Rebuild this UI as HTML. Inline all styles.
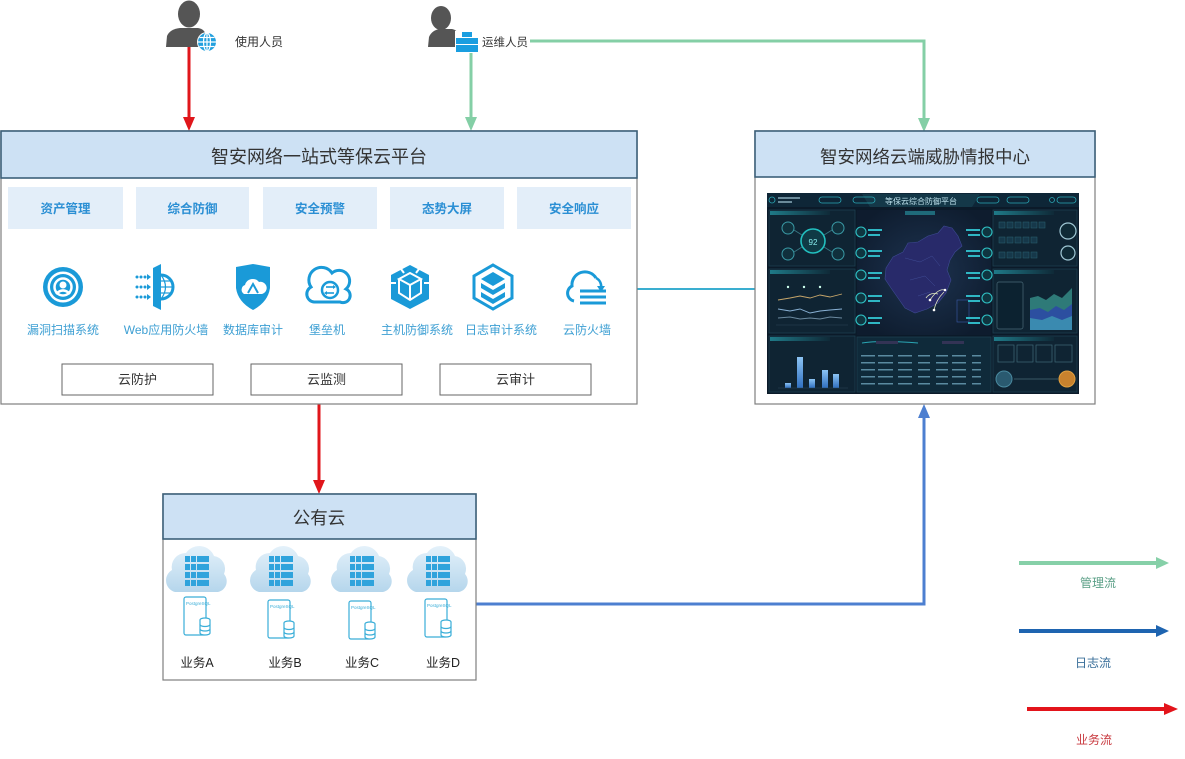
<!DOCTYPE html>
<html><head><meta charset="utf-8">
<style>
html,body{margin:0;padding:0;background:#fff;}
svg{display:block;}
text{font-family:"Liberation Sans","Noto Sans CJK SC",sans-serif;}
</style></head><body>
<svg width="1185" height="759" viewBox="0 0 1185 759" xmlns="http://www.w3.org/2000/svg">
<defs>
<linearGradient id="cl" x1="0" y1="0" x2="0" y2="1"><stop offset="0" stop-color="#e4f1fa"/><stop offset="1" stop-color="#b5d6ec"/></linearGradient>
<linearGradient id="bar" x1="0" y1="0" x2="0" y2="1"><stop offset="0" stop-color="#8cc4f4"/><stop offset="1" stop-color="#2f6fc0"/></linearGradient>
<radialGradient id="mapbg" cx="0.5" cy="0.5" r="0.6"><stop offset="0" stop-color="#1d3350"/><stop offset="1" stop-color="#0e1c2e"/></radialGradient>
<linearGradient id="ph" x1="0" y1="0" x2="1" y2="0"><stop offset="0" stop-color="#1f7a88"/><stop offset="1" stop-color="#0f2a38"/></linearGradient>
</defs>

<!-- ===== connectors ===== -->
<line x1="189" y1="46" x2="189" y2="119" stroke="#e0161b" stroke-width="3"/>
<polygon points="183,117 195,117 189,131" fill="#e0161b"/>
<line x1="471" y1="52" x2="471" y2="119" stroke="#84cfa6" stroke-width="3"/>
<polygon points="465,117 477,117 471,131" fill="#84cfa6"/>
<polyline points="530,41 924,41 924,120" fill="none" stroke="#84cfa6" stroke-width="3"/>
<polygon points="918,118 930,118 924,132" fill="#84cfa6"/>
<line x1="637" y1="289" x2="755" y2="289" stroke="#3aaed0" stroke-width="2"/>
<line x1="319" y1="404" x2="319" y2="482" stroke="#e0161b" stroke-width="3"/>
<polygon points="313,480 325,480 319,494" fill="#e0161b"/>
<polyline points="476,604 924,604 924,416" fill="none" stroke="#4d7fd0" stroke-width="3"/>
<polygon points="918,418 930,418 924,404" fill="#4d7fd0"/>

<!-- ===== people ===== -->
<ellipse cx="189" cy="14" rx="11" ry="13.5" fill="#555"/>
<path d="M166,47 L167,36 Q170,29 180,28 L198,28 Q205,29 206,36 L206,47 Z" fill="#555"/>
<circle cx="207" cy="42" r="10" fill="#fff"/>
<circle cx="207" cy="42" r="9" fill="#22a0de"/>
<g stroke="#fff" stroke-width="1.2" fill="none">
<ellipse cx="207" cy="42" rx="3.5" ry="9"/>
<line x1="198" y1="42" x2="216" y2="42"/>
<line x1="199.5" y1="37.5" x2="214.5" y2="37.5"/>
<line x1="199.5" y1="46.5" x2="214.5" y2="46.5"/>
<line x1="207" y1="33" x2="207" y2="51"/>
</g>
<text x="235" y="46" font-size="12" fill="#333">使用人员</text>

<ellipse cx="441" cy="18" rx="10" ry="12" fill="#555"/>
<path d="M428,47 L429,37 Q432,30 440,29 L452,29 Q458,30 459,37 L459,47 Z" fill="#555"/>
<rect x="455" y="31" width="24" height="22" fill="#fff"/>
<rect x="462" y="32" width="10" height="5" fill="#1a9ee0"/>
<rect x="456" y="38" width="22" height="6" fill="#1a9ee0"/>
<rect x="456" y="45" width="22" height="7" fill="#1a9ee0"/>
<text x="482" y="46" font-size="11.5" fill="#333">运维人员</text>

<!-- ===== main platform box ===== -->
<rect x="1" y="131" width="636" height="273" fill="#fff" stroke="#7f7f7f" stroke-width="1.2"/>
<rect x="1" y="131" width="636" height="47" fill="#cde1f4" stroke="#3c6079" stroke-width="1.6"/>
<text x="319" y="163" font-size="18" fill="#333" text-anchor="middle">智安网络一站式等保云平台</text>

<g fill="#e3eef9">
<rect x="8" y="187" width="115" height="42"/>
<rect x="136" y="187" width="113" height="42"/>
<rect x="263" y="187" width="114" height="42"/>
<rect x="390" y="187" width="114" height="42"/>
<rect x="517" y="187" width="114" height="42"/>
</g>
<g font-size="12.5" font-weight="bold" fill="#2b8fd4" text-anchor="middle">
<text x="65.5" y="213">资产管理</text>
<text x="192.5" y="213">综合防御</text>
<text x="320" y="213">安全预警</text>
<text x="447" y="213">态势大屏</text>
<text x="574" y="213">安全响应</text>
</g>

<!-- icons -->
<circle cx="63" cy="287" r="20" fill="#1a9ad8"/>
<circle cx="63" cy="287" r="15.5" fill="#fff"/>
<circle cx="63" cy="287" r="13" fill="#1a9ad8"/>
<circle cx="63" cy="287" r="8.5" fill="none" stroke="#fff" stroke-width="2.5"/>
<circle cx="63" cy="285" r="3.5" fill="#fff"/>
<path d="M56,294 Q63,287 70,294" fill="none" stroke="#fff" stroke-width="2.5"/>
<g fill="#1a9ad8">
<circle cx="137" cy="277" r="1.5"/><circle cx="141" cy="277" r="1.5"/><circle cx="145" cy="277" r="1.5"/><polygon points="147,274 151,277 147,280"/>
<circle cx="137" cy="287" r="1.5"/><circle cx="141" cy="287" r="1.5"/><circle cx="145" cy="287" r="1.5"/><polygon points="147,284 151,287 147,290"/>
<circle cx="137" cy="297" r="1.5"/><circle cx="141" cy="297" r="1.5"/><circle cx="145" cy="297" r="1.5"/><polygon points="147,294 151,297 147,300"/>
<polygon points="153,268 161,264 161,310 153,306"/>
</g>
<path d="M161,275 A12,12 0 0 1 161,299" fill="none" stroke="#1a9ad8" stroke-width="3"/>
<g stroke="#1a9ad8" stroke-width="1.2" fill="none">
<line x1="161" y1="287" x2="173" y2="287"/><line x1="161" y1="281" x2="171" y2="281"/><line x1="161" y1="293" x2="171" y2="293"/><path d="M161,275 Q170,287 161,299"/>
</g>
<path d="M236,267 L253,264 L270,267 L270,288 Q268,302 253,310 Q238,302 236,288 Z" fill="#1a9ad8"/>
<path d="M244,294 A5,5 0 0 1 245,285 A8,8 0 0 1 259,282 A6,6 0 0 1 262,294 Z" fill="#fff"/>
<path d="M248,293 L253,284 L258,293" fill="none" stroke="#1a9ad8" stroke-width="2"/>
<path d="M314,302 A8,8 0 0 1 311,287 A12,12 0 0 1 332,273 A10,10 0 0 1 346,289 A7,7 0 0 1 340,302 Z" fill="none" stroke="#1a9ad8" stroke-width="3"/>
<circle cx="330" cy="290" r="8" fill="none" stroke="#1a9ad8" stroke-width="2.5"/>
<g stroke="#1a9ad8" stroke-width="1.6" fill="none"><line x1="326" y1="287" x2="334" y2="287"/><line x1="326" y1="293" x2="334" y2="293"/></g>
<polygon points="333,285 336,287 333,289" fill="#1a9ad8"/><polygon points="327,291 324,293 327,295" fill="#1a9ad8"/>
<polygon points="410,265 429,275 429,299 410,309 391,299 391,275" fill="#1a9ad8"/>
<g fill="none" stroke="#fff" stroke-width="2">
<polygon points="410,273 421,279 410,285 399,279"/>
<path d="M399,279 L399,293 L410,300 L421,293 L421,279"/>
<line x1="410" y1="285" x2="410" y2="300"/>
<line x1="391" y1="283" x2="396" y2="283"/><line x1="424" y1="283" x2="429" y2="283"/>
<line x1="401" y1="269" x2="404" y2="273"/><line x1="419" y1="269" x2="416" y2="273"/>
</g>
<polygon points="493,265 512,276 512,298 493,309 474,298 474,276" fill="none" stroke="#1a9ad8" stroke-width="3"/>
<g fill="#1a9ad8">
<polygon points="493,272 505,279 493,286 481,279"/>
<polygon points="481,283 493,290 505,283 505,288 493,295 481,288"/>
<polygon points="481,292 493,299 505,292 505,297 493,304 481,297"/>
</g>
<path d="M574,301 A8,8 0 0 1 572,286 A13,13 0 0 1 596,278" fill="none" stroke="#1a9ad8" stroke-width="3"/>
<path d="M596,278 A9,9 0 0 1 601,288" fill="none" stroke="#1a9ad8" stroke-width="2.5"/>
<polygon points="597,286 605,286 601,292" fill="#1a9ad8"/>
<g stroke="#1a9ad8" stroke-width="3"><line x1="580" y1="291" x2="606" y2="291"/><line x1="580" y1="297" x2="606" y2="297"/><line x1="580" y1="303" x2="606" y2="303"/></g>

<g font-size="12" fill="#3d9fd3" text-anchor="middle">
<text x="63" y="334">漏洞扫描系统</text>
<text x="166" y="334">Web应用防火墙</text>
<text x="253" y="334">数据库审计</text>
<text x="327" y="334">堡垒机</text>
<text x="417" y="334">主机防御系统</text>
<text x="501" y="334">日志审计系统</text>
<text x="587" y="334">云防火墙</text>
</g>

<g fill="#fff" stroke="#666" stroke-width="1">
<rect x="62" y="364" width="151" height="31"/>
<rect x="251" y="364" width="151" height="31"/>
<rect x="440" y="364" width="151" height="31"/>
</g>
<g font-size="13" fill="#333" text-anchor="middle">
<text x="137.5" y="384">云防护</text>
<text x="326.5" y="384">云监测</text>
<text x="515.5" y="384">云审计</text>
</g>

<!-- ===== right intel box ===== -->
<rect x="755" y="131" width="340" height="273" fill="#fff" stroke="#7f7f7f" stroke-width="1.2"/>
<rect x="755" y="131" width="340" height="46" fill="#cde1f4" stroke="#3c6079" stroke-width="1.6"/>
<text x="925" y="163" font-size="17.5" fill="#333" text-anchor="middle">智安网络云端威胁情报中心</text>

<rect x="767" y="193" width="312" height="201" fill="#0b1a29"/>
<rect x="767" y="193" width="312" height="14" fill="#0e2637"/>
<path d="M862,194 L980,194 L972,207 L870,207 Z" fill="#143848"/>
<text x="921" y="204" font-size="8" fill="#bfe3ee" text-anchor="middle">等保云综合防御平台</text>
<g fill="none" stroke="#2aa6b4" stroke-width="0.8">
<circle cx="772" cy="200" r="3"/>
<rect x="819" y="197" width="22" height="6" rx="3"/>
<rect x="853" y="197" width="22" height="6" rx="3"/>
<rect x="977" y="197" width="22" height="6" rx="3"/>
<rect x="1007" y="197" width="22" height="6" rx="3"/>
<circle cx="1052" cy="200" r="2.5"/>
<rect x="1057" y="197" width="19" height="6" rx="3"/>
</g>
<rect x="778" y="197" width="22" height="2" fill="#6a8a9a"/><rect x="778" y="201" width="14" height="2" fill="#6a8a9a"/>

<g fill="#0f2433" stroke="#1c3f4e" stroke-width="0.8">
<rect x="769" y="210" width="86" height="56"/>
<rect x="769" y="269" width="86" height="64"/>
<rect x="769" y="336" width="86" height="56"/>
<rect x="993" y="210" width="84" height="56"/>
<rect x="993" y="269" width="84" height="64"/>
<rect x="993" y="336" width="84" height="56"/>
</g>
<g fill="url(#ph)">
<rect x="770" y="211" width="60" height="4"/>
<rect x="770" y="270" width="60" height="4"/>
<rect x="770" y="337" width="60" height="4"/>
<rect x="994" y="211" width="60" height="4"/>
<rect x="994" y="270" width="60" height="4"/>
<rect x="994" y="337" width="60" height="4"/>
</g>
<circle cx="813" cy="241" r="12" fill="#0f3a45" stroke="#22c0c0" stroke-width="1.6"/>
<text x="813" y="245" font-size="8" fill="#8ee" text-anchor="middle">92</text>
<g fill="#10303c" stroke="#3a9aa6" stroke-width="1">
<circle cx="788" cy="228" r="6"/><circle cx="838" cy="228" r="6"/>
<circle cx="788" cy="254" r="6"/><circle cx="838" cy="254" r="6"/>
</g>
<g stroke="#3a7a86" stroke-width="0.8"><line x1="794" y1="230" x2="802" y2="235"/><line x1="832" y1="230" x2="824" y2="235"/><line x1="794" y1="252" x2="802" y2="247"/><line x1="832" y1="252" x2="824" y2="247"/></g>
<g fill="#cfe" ><circle cx="788" cy="287" r="1.2"/><circle cx="804" cy="287" r="1.2"/><circle cx="820" cy="287" r="1.2"/></g>
<g fill="none" stroke-width="0.9">
<polyline points="778,300 790,298 800,296 810,298 820,295 830,297 842,294" stroke="#c7a66a"/>
<polyline points="778,309 790,311 800,309 810,313 820,311 830,310 842,309" stroke="#8ab2d6"/>
<polyline points="778,318 790,317 800,319 810,318 820,319 830,317 842,318" stroke="#6c8aa0"/>
</g>
<line x1="776" y1="325" x2="848" y2="325" stroke="#2a4756" stroke-width="0.6"/>
<g fill="url(#bar)">
<rect x="785" y="383" width="6" height="5"/>
<rect x="797" y="357" width="6" height="31"/>
<rect x="809" y="379" width="6" height="9"/>
<rect x="822" y="370" width="6" height="18"/>
<rect x="833" y="374" width="6" height="14"/>
</g>
<line x1="778" y1="388" x2="848" y2="388" stroke="#2a4756" stroke-width="0.6"/>

<rect x="857" y="210" width="134" height="125" fill="url(#mapbg)"/>
<rect x="905" y="211" width="30" height="4" fill="#1f6a7a"/>
<path d="M886,268 L893,257 L903,252 L908,243 L918,242 L928,236 L938,233 L944,226 L952,228 L958,236 L962,246 L955,252 L950,260 L947,270 L951,280 L946,293 L938,303 L927,309 L915,313 L905,308 L898,298 L891,288 L885,279 Z" fill="#282a6a" stroke="#3d4a92" stroke-width="0.6"/>
<g fill="none" stroke="#3f4c95" stroke-width="0.5"><path d="M905,258 L920,262 L932,256 L940,266"/><path d="M910,280 L925,276 L935,286"/><path d="M918,296 L930,292"/></g>
<g fill="none" stroke="#dfe8c0" stroke-width="0.8"><path d="M930,300 Q938,288 945,290"/><path d="M926,298 Q930,292 938,294"/><path d="M934,310 Q936,300 944,292"/></g>
<g fill="#fff"><circle cx="945" cy="290" r="1.3"/><circle cx="930" cy="300" r="1.3"/><circle cx="934" cy="310" r="1.3"/></g>
<rect x="957" y="300" width="12" height="22" fill="none" stroke="#3a5aa8" stroke-width="0.6"/>
<g fill="#0f3540" stroke="#2fc0c4" stroke-width="1.1">
<circle cx="861" cy="232" r="5"/><circle cx="861" cy="253" r="5"/><circle cx="861" cy="275" r="5"/><circle cx="861" cy="298" r="5"/><circle cx="861" cy="320" r="5"/>
<circle cx="987" cy="232" r="5"/><circle cx="987" cy="253" r="5"/><circle cx="987" cy="275" r="5"/><circle cx="987" cy="298" r="5"/><circle cx="987" cy="320" r="5"/>
</g>
<g fill="#2fb7c4">
<rect x="868" y="229" width="14" height="2"/><rect x="868" y="234" width="12" height="2"/>
<rect x="868" y="250" width="14" height="2"/><rect x="868" y="255" width="12" height="2"/>
<rect x="868" y="272" width="14" height="2"/><rect x="868" y="277" width="12" height="2"/>
<rect x="868" y="295" width="14" height="2"/><rect x="868" y="300" width="12" height="2"/>
<rect x="868" y="317" width="14" height="2"/><rect x="868" y="322" width="12" height="2"/>
<rect x="966" y="229" width="14" height="2"/><rect x="968" y="234" width="12" height="2"/>
<rect x="966" y="250" width="14" height="2"/><rect x="968" y="255" width="12" height="2"/>
<rect x="966" y="272" width="14" height="2"/><rect x="968" y="277" width="12" height="2"/>
<rect x="966" y="295" width="14" height="2"/><rect x="968" y="300" width="12" height="2"/>
<rect x="966" y="317" width="14" height="2"/><rect x="968" y="322" width="12" height="2"/>
</g>
<rect x="857" y="337" width="134" height="55" fill="#0f2a3a" stroke="#1c3f4e" stroke-width="0.8"/>
<path d="M862,343 Q880,340 918,343" fill="none" stroke="#2aa6b4" stroke-width="1"/>
<rect x="876" y="341" width="22" height="3" fill="#335"/>
<rect x="942" y="341" width="22" height="3" fill="#335"/>
<g fill="#5a8aa0">
<rect x="861" y="355" width="120" height="1.5"/>
<rect x="861" y="362" width="120" height="1.5"/>
<rect x="861" y="369" width="120" height="1.5"/>
<rect x="861" y="376" width="120" height="1.5"/>
<rect x="861" y="383" width="120" height="1.5"/>
</g>
<g fill="#0f2a3a">
<rect x="875" y="353" width="3" height="34"/><rect x="893" y="353" width="5" height="34"/><rect x="912" y="353" width="6" height="34"/><rect x="930" y="353" width="6" height="34"/><rect x="948" y="353" width="4" height="34"/><rect x="966" y="353" width="6" height="34"/>
</g>

<g fill="#16384a" stroke="#2a6272" stroke-width="0.5">
<rect x="999" y="222" width="6" height="6"/><rect x="1007" y="222" width="6" height="6"/><rect x="1015" y="222" width="6" height="6"/><rect x="1023" y="222" width="6" height="6"/><rect x="1031" y="222" width="6" height="6"/><rect x="1039" y="222" width="6" height="6"/>
<rect x="999" y="237" width="6" height="6"/><rect x="1007" y="237" width="6" height="6"/><rect x="1015" y="237" width="6" height="6"/><rect x="1023" y="237" width="6" height="6"/><rect x="1031" y="237" width="6" height="6"/>
<rect x="999" y="252" width="6" height="6"/><rect x="1007" y="252" width="6" height="6"/><rect x="1015" y="252" width="6" height="6"/><rect x="1023" y="252" width="6" height="6"/><rect x="1031" y="252" width="6" height="6"/>
</g>
<circle cx="1068" cy="231" r="8" fill="#0f2a36" stroke="#9fc7d4" stroke-width="1.2"/>
<circle cx="1068" cy="253" r="7" fill="#0f2a36" stroke="#9fc7d4" stroke-width="1.2"/>
<rect x="997" y="282" width="26" height="47" rx="2" fill="#0c2230" stroke="#4a6a78" stroke-width="0.7"/>
<path d="M1030,330 L1030,298 L1038,296 L1046,300 L1054,294 L1062,298 L1072,288 L1072,330 Z" fill="#2e7a78"/>
<path d="M1030,330 L1030,310 L1040,308 L1048,312 L1056,306 L1064,310 L1072,304 L1072,330 Z" fill="#2c4fa0"/>
<path d="M1030,330 L1030,318 L1042,320 L1052,316 L1062,320 L1072,316 L1072,330 Z" fill="#3a8ab0"/>
<g fill="none" stroke="#3f6a78" stroke-width="0.7">
<rect x="998" y="345" width="16" height="17"/><rect x="1017" y="345" width="16" height="17"/><rect x="1036" y="345" width="16" height="17"/><rect x="1055" y="345" width="17" height="17"/>
</g>
<circle cx="1004" cy="379" r="8" fill="#2a5a70" stroke="#4a8aa0" stroke-width="1"/>
<circle cx="1067" cy="379" r="8" fill="#c8822e" stroke="#e0a040" stroke-width="1"/>
<line x1="1014" y1="379" x2="1058" y2="379" stroke="#4a6a78" stroke-width="0.7"/>

<!-- ===== public cloud box ===== -->
<rect x="163" y="494" width="313" height="186" fill="#fff" stroke="#7f7f7f" stroke-width="1.2"/>
<rect x="163" y="494" width="313" height="45" fill="#cde1f4" stroke="#3c6079" stroke-width="1.6"/>
<text x="319" y="524" font-size="17.5" fill="#333" text-anchor="middle">公有云</text>

<path d="M175,592 A12,12 0 0 1 172,570 A14,14 0 0 1 186,553 A16,16 0 0 1 214,556 A13,13 0 0 1 224,574 A11,11 0 0 1 218,592 Z" fill="url(#cl)"/>
<path d="M259,592 A12,12 0 0 1 256,570 A14,14 0 0 1 270,553 A16,16 0 0 1 298,556 A13,13 0 0 1 308,574 A11,11 0 0 1 302,592 Z" fill="url(#cl)"/>
<path d="M340,592 A12,12 0 0 1 337,570 A14,14 0 0 1 351,553 A16,16 0 0 1 379,556 A13,13 0 0 1 389,574 A11,11 0 0 1 383,592 Z" fill="url(#cl)"/>
<path d="M416,592 A12,12 0 0 1 413,570 A14,14 0 0 1 427,553 A16,16 0 0 1 455,556 A13,13 0 0 1 465,574 A11,11 0 0 1 459,592 Z" fill="url(#cl)"/>

<g fill="#2fa3dc">
<g transform="translate(197,0)">
<rect x="-12" y="556" width="5" height="6"/><rect x="-6" y="556" width="5" height="6"/><rect x="0" y="556" width="12" height="6"/>
<rect x="-12" y="564" width="5" height="6"/><rect x="-6" y="564" width="5" height="6"/><rect x="0" y="564" width="12" height="6"/>
<rect x="-12" y="572" width="5" height="6"/><rect x="-6" y="572" width="5" height="6"/><rect x="0" y="572" width="12" height="6"/>
<rect x="-12" y="580" width="5" height="6"/><rect x="-6" y="580" width="5" height="6"/><rect x="0" y="580" width="12" height="6"/>
</g>
<g transform="translate(281,0)">
<rect x="-12" y="556" width="5" height="6"/><rect x="-6" y="556" width="5" height="6"/><rect x="0" y="556" width="12" height="6"/>
<rect x="-12" y="564" width="5" height="6"/><rect x="-6" y="564" width="5" height="6"/><rect x="0" y="564" width="12" height="6"/>
<rect x="-12" y="572" width="5" height="6"/><rect x="-6" y="572" width="5" height="6"/><rect x="0" y="572" width="12" height="6"/>
<rect x="-12" y="580" width="5" height="6"/><rect x="-6" y="580" width="5" height="6"/><rect x="0" y="580" width="12" height="6"/>
</g>
<g transform="translate(362,0)">
<rect x="-12" y="556" width="5" height="6"/><rect x="-6" y="556" width="5" height="6"/><rect x="0" y="556" width="12" height="6"/>
<rect x="-12" y="564" width="5" height="6"/><rect x="-6" y="564" width="5" height="6"/><rect x="0" y="564" width="12" height="6"/>
<rect x="-12" y="572" width="5" height="6"/><rect x="-6" y="572" width="5" height="6"/><rect x="0" y="572" width="12" height="6"/>
<rect x="-12" y="580" width="5" height="6"/><rect x="-6" y="580" width="5" height="6"/><rect x="0" y="580" width="12" height="6"/>
</g>
<g transform="translate(438,0)">
<rect x="-12" y="556" width="5" height="6"/><rect x="-6" y="556" width="5" height="6"/><rect x="0" y="556" width="12" height="6"/>
<rect x="-12" y="564" width="5" height="6"/><rect x="-6" y="564" width="5" height="6"/><rect x="0" y="564" width="12" height="6"/>
<rect x="-12" y="572" width="5" height="6"/><rect x="-6" y="572" width="5" height="6"/><rect x="0" y="572" width="12" height="6"/>
<rect x="-12" y="580" width="5" height="6"/><rect x="-6" y="580" width="5" height="6"/><rect x="0" y="580" width="12" height="6"/>
</g>
</g>

<g fill="#fff" stroke="#3aaed8" stroke-width="1.2">
<rect x="184" y="597" width="22" height="38" rx="2"/>
<rect x="268" y="600" width="22" height="38" rx="2"/>
<rect x="349" y="601" width="22" height="38" rx="2"/>
<rect x="425" y="599" width="22" height="38" rx="2"/>
</g>
<g font-size="4.5" fill="#3aaed8">
<text x="186" y="605">PostgreSQL</text>
<text x="270" y="608">PostgreSQL</text>
<text x="351" y="609">PostgreSQL</text>
<text x="427" y="607">PostgreSQL</text>
</g>
<g fill="#fff" stroke="#3aaed8" stroke-width="1.2">
<g transform="translate(205,620)"><ellipse cx="0" cy="0" rx="5" ry="2"/><path d="M-5,0 V13 A5,2 0 0 0 5,13 V0"/><path d="M-5,4.5 A5,2 0 0 0 5,4.5 M-5,9 A5,2 0 0 0 5,9"/></g>
<g transform="translate(289,623)"><ellipse cx="0" cy="0" rx="5" ry="2"/><path d="M-5,0 V13 A5,2 0 0 0 5,13 V0"/><path d="M-5,4.5 A5,2 0 0 0 5,4.5 M-5,9 A5,2 0 0 0 5,9"/></g>
<g transform="translate(370,624)"><ellipse cx="0" cy="0" rx="5" ry="2"/><path d="M-5,0 V13 A5,2 0 0 0 5,13 V0"/><path d="M-5,4.5 A5,2 0 0 0 5,4.5 M-5,9 A5,2 0 0 0 5,9"/></g>
<g transform="translate(446,622)"><ellipse cx="0" cy="0" rx="5" ry="2"/><path d="M-5,0 V13 A5,2 0 0 0 5,13 V0"/><path d="M-5,4.5 A5,2 0 0 0 5,4.5 M-5,9 A5,2 0 0 0 5,9"/></g>
</g>

<g font-size="12.5" fill="#222" text-anchor="middle">
<text x="197" y="667">业务A</text>
<text x="285" y="667">业务B</text>
<text x="362" y="667">业务C</text>
<text x="443" y="667">业务D</text>
</g>

<!-- ===== legend ===== -->
<line x1="1019" y1="563" x2="1158" y2="563" stroke="#86d0a8" stroke-width="4"/>
<polygon points="1156,557 1156,569 1169,563" fill="#86d0a8"/>
<text x="1098" y="587" font-size="12" fill="#5a9f86" text-anchor="middle">管理流</text>
<line x1="1019" y1="631" x2="1158" y2="631" stroke="#1e64b0" stroke-width="4"/>
<polygon points="1156,625 1156,637 1169,631" fill="#1e64b0"/>
<text x="1093" y="667" font-size="12" fill="#3a6f9a" text-anchor="middle">日志流</text>
<line x1="1027" y1="709" x2="1166" y2="709" stroke="#e3141b" stroke-width="4"/>
<polygon points="1164,703 1164,715 1178,709" fill="#e3141b"/>
<text x="1094" y="744" font-size="12" fill="#c8383e" text-anchor="middle">业务流</text>
</svg>
</body></html>
